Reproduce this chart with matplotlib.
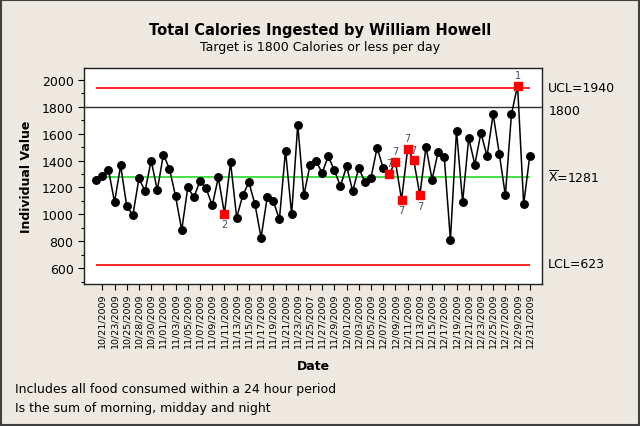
import matplotlib
matplotlib.use("Agg")
import matplotlib.pyplot as plt
from matplotlib.patches import Rectangle
from matplotlib.transforms import blended_transform_factory
from matplotlib.ticker import MultipleLocator

plt.rcParams['font.family'] = ['DejaVu Sans']
plt.rcParams['mathtext.fontset'] = 'dejavusans'

values = [1254, 1284, 1333, 1091, 1363, 1059, 995, 1267, 1173, 1400,
          1180, 1444, 1338, 1133, 884, 1200, 1126, 1250, 1193, 1067,
          1274, 1005, 1387, 976, 1141, 1239, 1074, 828, 1126, 1099,
          963, 1474, 1000, 1666, 1141, 1363, 1395, 1309, 1432, 1326,
          1210, 1358, 1173, 1346, 1239, 1272, 1496, 1341, 1301, 1390,
          1109, 1486, 1402, 1143, 1501, 1259, 1466, 1424, 810, 1622,
          1091, 1568, 1370, 1605, 1432, 1745, 1452, 1141, 1745, 1957,
          1074, 1437]

date_labels = ["10/21/2009", "10/23/2009", "10/25/2009", "10/28/2009", "10/30/2009",
               "11/01/2009", "11/03/2009", "11/05/2009", "11/07/2009", "11/09/2009",
               "11/11/2009", "11/13/2009", "11/15/2009", "11/17/2009", "11/19/2009",
               "11/21/2009", "11/23/2009", "11/25/2007", "11/27/2009", "11/29/2009",
               "12/01/2009", "12/03/2009", "12/05/2009", "12/07/2009", "12/09/2009",
               "12/11/2009", "12/13/2009", "12/15/2009", "12/17/2009", "12/19/2009",
               "12/21/2009", "12/23/2009", "12/25/2009", "12/27/2009", "12/29/2009",
               "12/31/2009"]

# flagged points: index -> test number
flag_idx = [21, 48, 49, 50, 51, 52, 53, 69]
flag_test = ["2", "7", "7", "7", "7", "7", "7", "1"]

ucl = 1940
center = 1281
lcl = 623
target = 1800

bg = '#EDE9E0'
fig = plt.figure(figsize=(6.4, 4.27), dpi=100, facecolor=bg)
fig.patches.append(Rectangle((0.0015, 0.002), 0.997, 0.996, transform=fig.transFigure,
                             fill=False, edgecolor='#404040', linewidth=1.5))

ax = fig.add_axes([84/640, 1 - 285/427, 458/640, 216/427])
ax.set_facecolor('white')

n = len(values)
x = list(range(n))

ax.axhline(target, color='#303030', lw=1.0, zorder=1)
ax.hlines([ucl, lcl], 0, n - 1, colors='#FF0000', lw=1.2, zorder=1)
ax.hlines(center, 0, n - 1, colors='#22DD22', lw=1.2, zorder=1)

ax.plot(x, values, color='black', lw=1.1, marker='o', markersize=5.4,
        markerfacecolor='black', markeredgecolor='black', zorder=3)

fx = [i for i in flag_idx]
fy = [values[i] for i in flag_idx]
ax.plot(fx, fy, linestyle='none', marker='s', markersize=5.8,
        markerfacecolor='#FF0000', markeredgecolor='#FF0000', zorder=4)
for i, t in zip(flag_idx, flag_test):
    if values[i] >= center:
        ax.annotate(t, (i, values[i]), xytext=(0, 4), textcoords='offset points',
                    ha='center', va='bottom', fontsize=7, color='#3A4A6A')
    else:
        ax.annotate(t, (i, values[i]), xytext=(0, -4), textcoords='offset points',
                    ha='center', va='top', fontsize=7, color='#3A4A6A')

ax.set_xlim(-2, n + 1)
ax.set_ylim(483, 2087)
ax.yaxis.set_major_locator(MultipleLocator(200))
ax.yaxis.set_minor_locator(MultipleLocator(100))
tick_pos = list(range(1, n, 2))
ax.set_xticks(tick_pos)
ax.set_xticklabels(date_labels, rotation=90, fontsize=6.8)
ax.tick_params(axis='y', which='major', labelsize=9, length=4, width=0.8, direction='out')
ax.tick_params(axis='y', which='minor', length=2, width=0.8, direction='out')
ax.tick_params(axis='x', length=4, width=0.8, direction='out', pad=2)
ax.tick_params(top=False, right=False)
for s in ax.spines.values():
    s.set_color('#202020')
    s.set_linewidth(1.0)

ax.set_ylabel('Individual Value', fontsize=9, fontweight='bold', labelpad=6)
ax.set_xlabel('Date', fontsize=9, fontweight='bold', labelpad=9)

tr = blended_transform_factory(ax.transAxes, ax.transData)
ax.text(1.013, ucl, 'UCL=1940', transform=tr, va='center', ha='left', fontsize=9)
ax.text(1.015, target - 25, '1800', transform=tr, va='center', ha='left', fontsize=9)
ax.text(1.013, center, r'$\overline{\mathrm{X}}$=1281', transform=tr, va='center', ha='left', fontsize=9)
ax.text(1.013, lcl + 12, 'LCL=623', transform=tr, va='center', ha='left', fontsize=9)

fig.text(320/640, 1 - 30/427, 'Total Calories Ingested by William Howell', ha='center', va='center',
         fontsize=10.5, fontweight='bold')
fig.text(320/640, 1 - 48/427, 'Target is 1800 Calories or less per day', ha='center', va='center',
         fontsize=9)
fig.text(15/640, 1 - 390/427, 'Includes all food consumed within a 24 hour period', ha='left',
         va='center', fontsize=9)
fig.text(15/640, 1 - 409/427, 'Is the sum of morning, midday and night', ha='left',
         va='center', fontsize=9)

fig.savefig('out.png', dpi=100, facecolor=bg)
